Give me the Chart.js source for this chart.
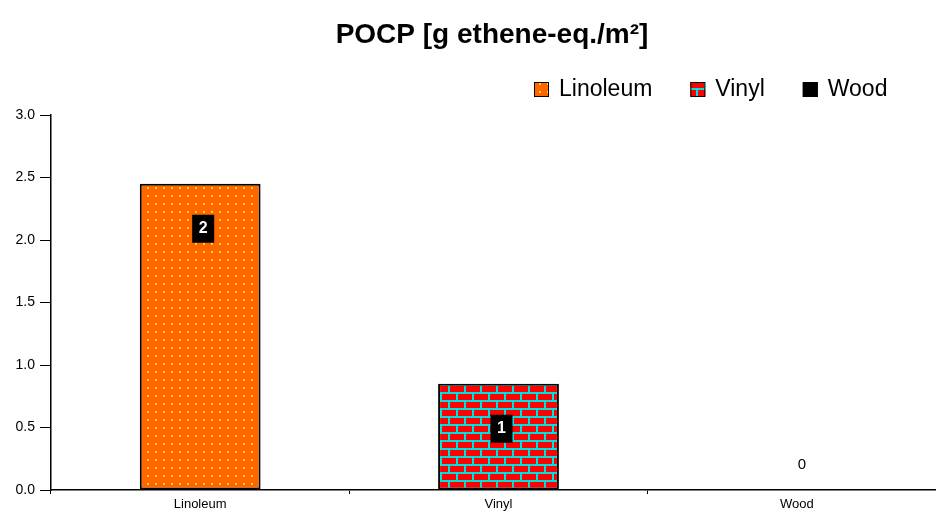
<!DOCTYPE html>
<html>
<head>
<meta charset="utf-8">
<script src="https://cdn.jsdelivr.net/npm/chart.js@4"></script>
<style>
  html, body { margin: 0; padding: 0; background: #fff; overflow: hidden; }
  #wrap { width: 950px; height: 513px; }
</style>
</head>
<body>
<div id="wrap"><canvas id="c" width="950" height="513"></canvas></div>
<script>
// ---- data ----
const chartTitle = 'POCP [g ethene-eq./m²]';
const categories = ['Linoleum', 'Vinyl', 'Wood'];
const values = [2.45, 0.85, 0];
const yMin = 0, yMax = 3.0, yStep = 0.5;

// ---- patterns ----
function dotPattern() {
  const c = document.createElement('canvas'); c.width = 8; c.height = 8;
  const g = c.getContext('2d');
  g.fillStyle = '#FF6600'; g.fillRect(0, 0, 8, 8);
  g.fillStyle = '#FFCC00'; g.fillRect(3, 3, 2, 2);
  g.fillStyle = '#FFFF00'; g.fillRect(3, 3, 1, 1);
  return g.createPattern(c, 'repeat');
}
function brickPattern() {
  const c = document.createElement('canvas'); c.width = 16; c.height = 16;
  const g = c.getContext('2d');
  g.fillStyle = '#FF0000'; g.fillRect(0, 0, 16, 16);
  g.fillStyle = '#00E0E0';
  g.fillRect(0, 0, 16, 2);
  g.fillRect(0, 8, 16, 2);
  g.fillRect(0, 2, 2, 6);
  g.fillRect(8, 10, 2, 6);
  return g.createPattern(c, 'repeat');
}
const fills = [dotPattern(), brickPattern(), '#000000'];

const decor = {
  id: 'decor',
  afterDatasetsDraw(chart) {
    const ctx = chart.ctx;
    const meta = chart.getDatasetMeta(0);
    ctx.save();
    meta.data.forEach((el, i) => {
      const v = values[i];
      const txt = String(Math.round(v));
      if (v > 0) {
        const cx = el.x + 3, cy = el.y + 45;
        ctx.fillStyle = '#000';
        ctx.fillRect(cx - 11, cy - 14, 22, 28);
        ctx.fillStyle = '#fff';
        ctx.font = 'bold 16px "Liberation Sans", Arial, sans-serif';
        ctx.textAlign = 'center'; ctx.textBaseline = 'middle';
        ctx.fillText(txt, cx, cy);
      } else {
        ctx.fillStyle = '#000';
        ctx.font = '15px "Liberation Sans", Arial, sans-serif';
        ctx.textAlign = 'center'; ctx.textBaseline = 'middle';
        ctx.fillText(txt, el.x + 5, el.base - 25);
      }
    });
    ctx.restore();
  },
  afterDraw(chart) {
    const ctx = chart.ctx;
    ctx.save();
    // title
    ctx.fillStyle = '#000';
    ctx.font = 'bold 28px "Liberation Sans", Arial, sans-serif';
    ctx.textAlign = 'center'; ctx.textBaseline = 'alphabetic';
    ctx.fillText(chartTitle, 492, 43);
    // legend
    ctx.font = '23px "Liberation Sans", Arial, sans-serif';
    ctx.textAlign = 'left';
    let x = 534;
    const by = 82, bs = 15;
    categories.forEach((name, i) => {
      ctx.fillStyle = fills[i];
      ctx.fillRect(x, by, bs, bs);
      ctx.strokeStyle = '#000'; ctx.lineWidth = 1;
      ctx.strokeRect(x + 0.5, by + 0.5, bs - 1, bs - 1);
      ctx.fillStyle = '#000';
      ctx.fillText(name, x + 25, 96);
      x += 25 + ctx.measureText(name).width + 38;
    });
    ctx.restore();
  }
};

new Chart(document.getElementById('c'), {
  type: 'bar',
  data: {
    labels: categories,
    datasets: [{
      label: 'POCP',
      data: values,
      backgroundColor: fills,
      borderColor: '#000',
      borderWidth: 2,
      borderSkipped: false,
      categoryPercentage: 1.0,
      barPercentage: 0.405
    }]
  },
  options: {
    responsive: false,
    animation: false,
    devicePixelRatio: 1,
    layout: { padding: { left: 0, right: 4, top: 115, bottom: 0 } },
    plugins: { legend: { display: false }, title: { display: false }, tooltip: { enabled: false } },
    scales: {
      x: {
        afterFit(s) { s.height = 23; },
        grid: { display: true, offset: true, drawOnChartArea: false, drawTicks: true, tickLength: 4, color: '#000', lineWidth: 1 },
        border: { display: true, color: '#000', width: 1.5 },
        ticks: { color: '#000', padding: 3, font: { family: '"Liberation Sans", Arial, sans-serif', size: 13 }, maxRotation: 0 }
      },
      y: {
        min: yMin, max: yMax,
        afterFit(s) { s.width = 51; },
        grid: { display: true, drawOnChartArea: false, drawTicks: true, tickLength: 11, color: '#000', lineWidth: 1 },
        border: { display: true, color: '#000', width: 1.5 },
        ticks: {
          stepSize: yStep, color: '#000', padding: 5,
          font: { family: '"Liberation Sans", Arial, sans-serif', size: 14 },
          callback: v => Number(v).toFixed(1)
        }
      }
    }
  },
  plugins: [decor]
});
</script>
</body>
</html>
